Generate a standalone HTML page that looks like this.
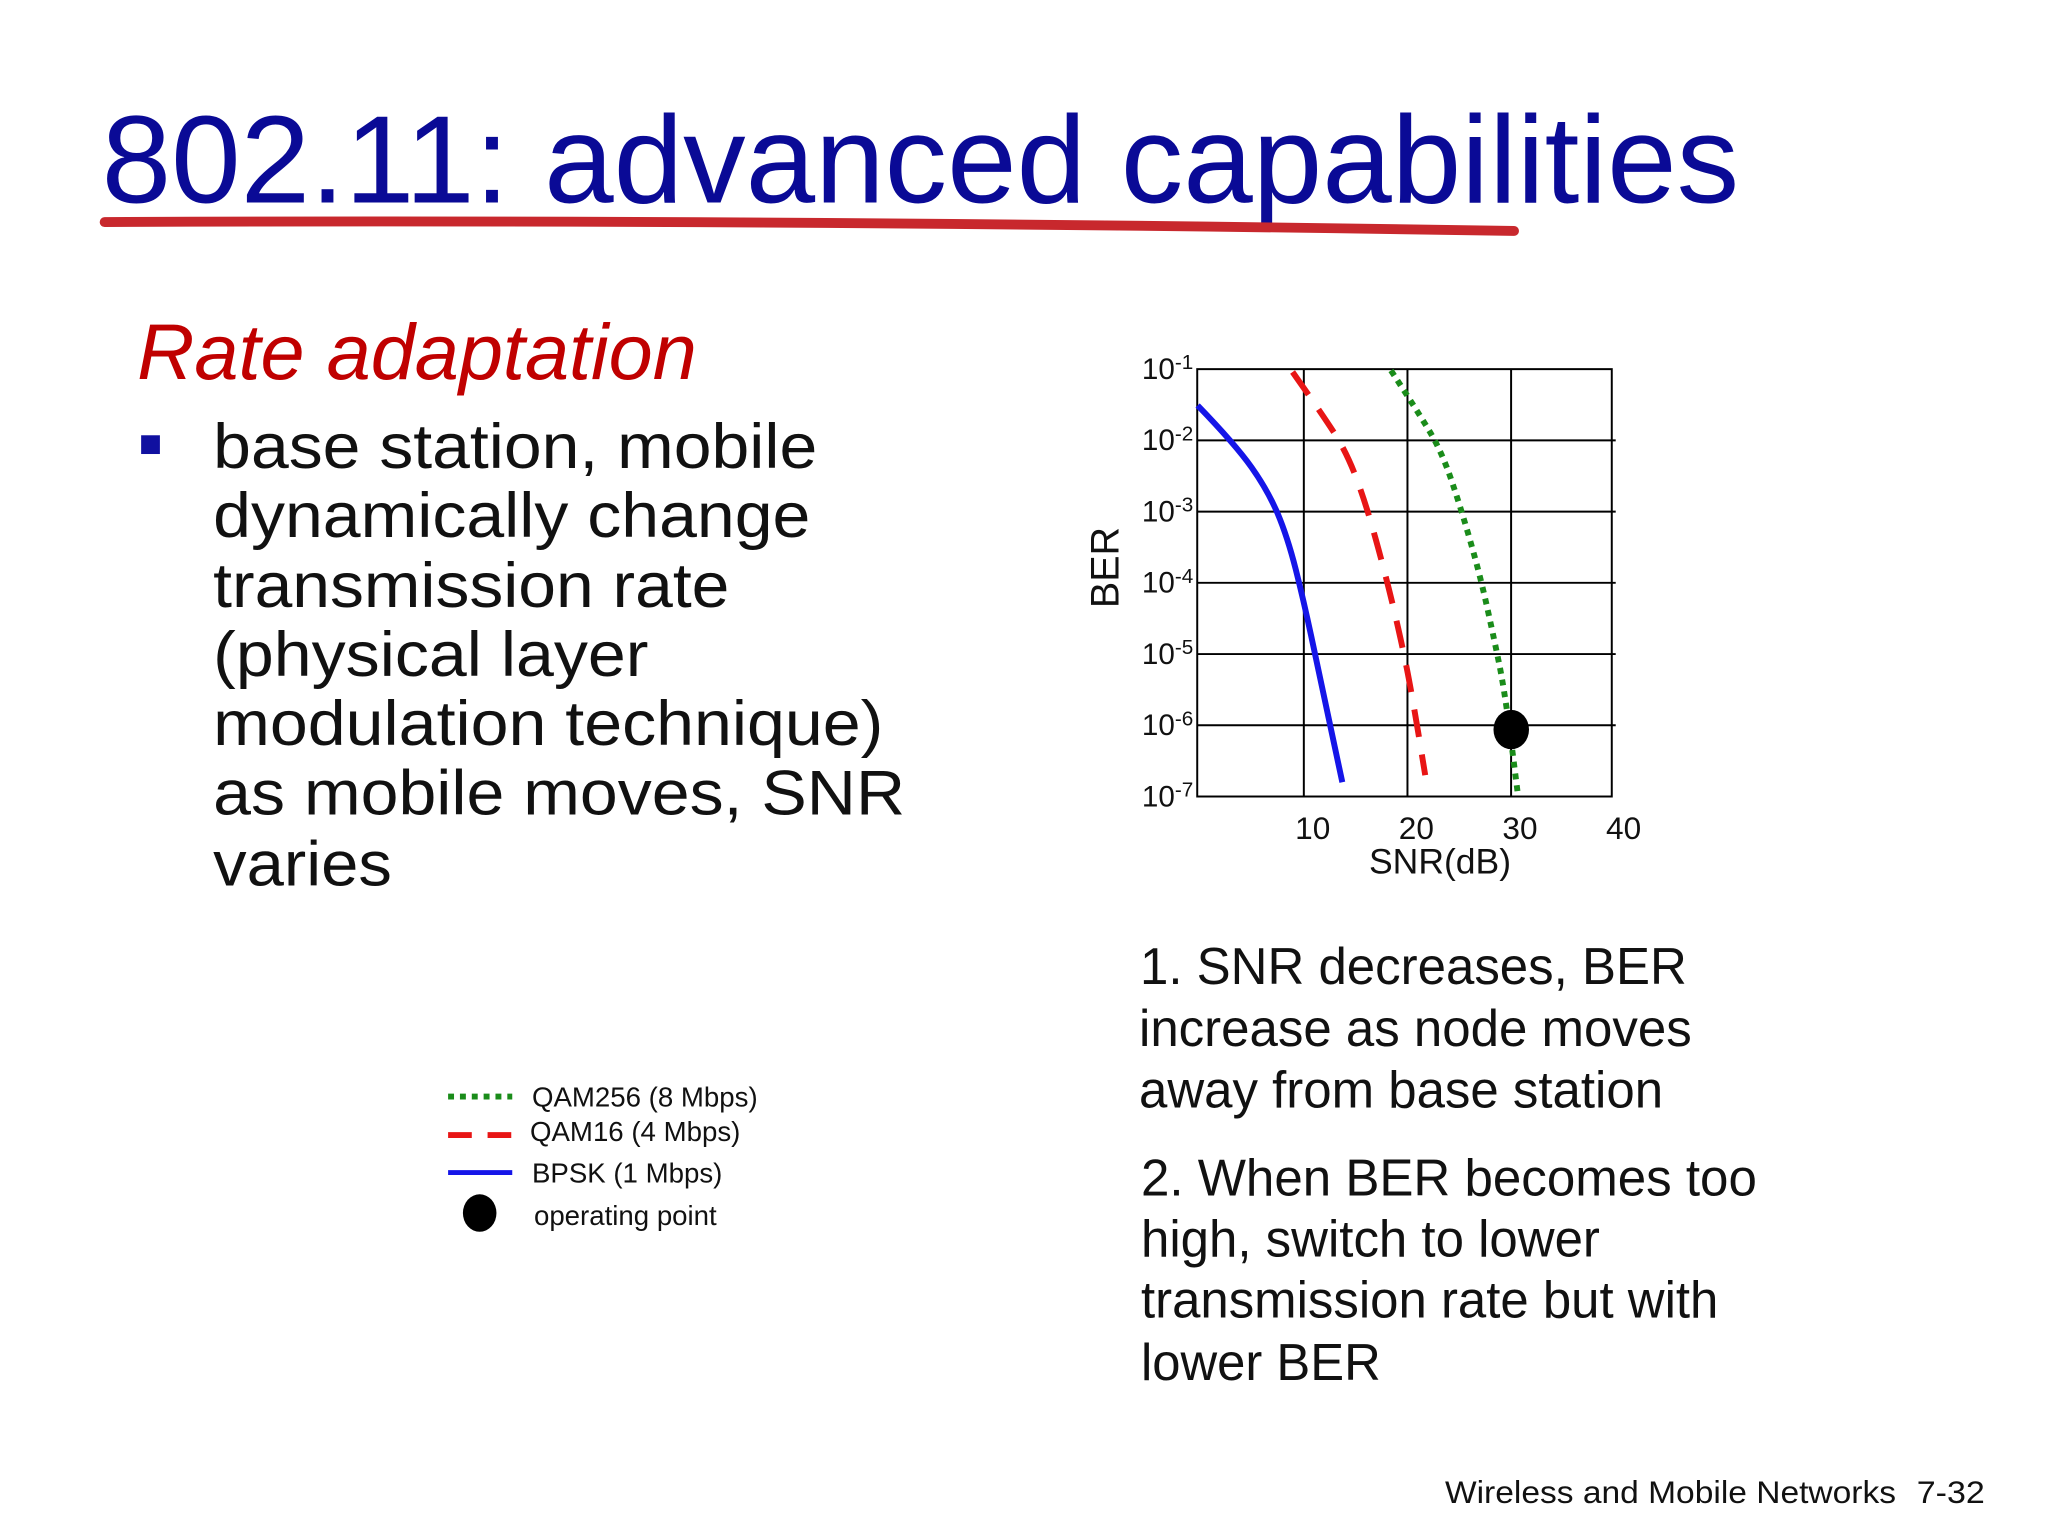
<!DOCTYPE html>
<html><head><meta charset="utf-8"><style>
html,body{margin:0;padding:0;background:#fff}
svg{display:block}
text{font-family:"Liberation Sans",sans-serif}
</style></head><body>
<svg id="slide" width="2048" height="1536" viewBox="0 0 2048 1536" xmlns="http://www.w3.org/2000/svg">
<rect width="2048" height="1536" fill="#fff"/>
<g transform="scale(0.987)">
<text x="103" y="205" font-size="126" fill="#0a0a96" textLength="1659" lengthAdjust="spacingAndGlyphs">802.11: advanced capabilities</text>
<path d="M106,225 Q800,222 1534,234" stroke="#c8282d" stroke-width="10" fill="none" stroke-linecap="round"/>
<text x="139" y="384" font-size="80" font-style="italic" fill="#c00000" textLength="567" lengthAdjust="spacingAndGlyphs">Rate adaptation</text>
<rect x="143" y="441" width="19" height="19" fill="#1010a0"/>
<g font-size="64" fill="#111">
<text x="216" y="474" textLength="612" lengthAdjust="spacingAndGlyphs">base station, mobile</text>
<text x="216" y="544" textLength="605" lengthAdjust="spacingAndGlyphs">dynamically change</text>
<text x="216" y="615" textLength="523" lengthAdjust="spacingAndGlyphs">transmission rate</text>
<text x="216" y="685" textLength="441" lengthAdjust="spacingAndGlyphs">(physical layer</text>
<text x="216" y="755" textLength="679" lengthAdjust="spacingAndGlyphs">modulation technique)</text>
<text x="216" y="825" textLength="701" lengthAdjust="spacingAndGlyphs">as mobile moves, SNR</text>
<text x="216" y="897" textLength="181" lengthAdjust="spacingAndGlyphs">varies</text>
</g>
<g font-size="53" fill="#111">
<text x="1155" y="997" textLength="554" lengthAdjust="spacingAndGlyphs">1. SNR decreases, BER</text>
<text x="1154" y="1060" textLength="560" lengthAdjust="spacingAndGlyphs">increase as node moves</text>
<text x="1154" y="1122" textLength="531" lengthAdjust="spacingAndGlyphs">away from base station</text>
</g>
<g font-size="53" fill="#111">
<text x="1156" y="1211" textLength="624" lengthAdjust="spacingAndGlyphs">2. When BER becomes too</text>
<text x="1156" y="1273" textLength="465" lengthAdjust="spacingAndGlyphs">high, switch to lower</text>
<text x="1156" y="1335" textLength="585" lengthAdjust="spacingAndGlyphs">transmission rate but with</text>
<text x="1156" y="1398" textLength="243" lengthAdjust="spacingAndGlyphs">lower BER</text>
</g>
<text x="1464" y="1523" font-size="32" fill="#111" textLength="457" lengthAdjust="spacingAndGlyphs">Wireless and Mobile Networks</text>
<text x="1942" y="1523" font-size="32" fill="#111" textLength="69" lengthAdjust="spacingAndGlyphs">7-32</text>
<g id="legend"></g>
<g id="chart"></g>
</g>
</svg>
<script>
const xTicks = [10, 20, 30, 40];
const yExps = [-1, -2, -3, -4, -5, -6, -7];
const bpskSnr = [0.04, 3.7, 6.8, 8.7, 10.3, 11.9, 14.0];
const bpskExp = [-1.51, -2.06, -2.7, -3.35, -4.27, -5.37, -6.8];
const qam16Snr = [9.2, 11.9, 14.4, 16.3, 18.2, 19.7, 20.7, 22.0];
const qam16Exp = [-1.04, -1.6, -2.16, -2.9, -3.9, -4.82, -5.55, -6.7];
const qam256Snr = [18.7, 21.3, 23.6, 25.5, 27.3, 28.7, 29.7, 30.9];
const qam256Exp = [-1.02, -1.6, -2.16, -2.98, -3.9, -4.82, -5.55, -6.93];
const opSnr = [30.3];
const opExp = [-6.06];
const legendLabels = ["QAM256 (8 Mbps)", "QAM16 (4 Mbps)", "BPSK (1 Mbps)", "operating point"];

const NS = "http://www.w3.org/2000/svg";
const L = 1213, R = 1633, T = 374, B = 807;
const xs = v => L + (v / 40) * (R - L);
const ys = e => T + ((-1 - e) / 6) * (B - T);
function mk(tag, attrs, parent) {
  const el = document.createElementNS(NS, tag);
  for (const k in attrs) el.setAttribute(k, attrs[k]);
  parent.appendChild(el);
  return el;
}
const chart = document.getElementById('chart');
yExps.slice(1, 6).forEach(e => {
  const ln = mk('line', {x1: L, x2: R + 4, y1: ys(e), y2: ys(e), stroke: '#000', 'stroke-width': 2}, chart);
  
  
});
xTicks.slice(0, 3).forEach(v => {
  const ln = mk('line', {x1: xs(v) + 3, x2: xs(v) + 3, y1: T, y2: B, stroke: '#000', 'stroke-width': 2}, chart);
  
  
});
const frame = mk('rect', {x: L, y: T, width: R - L, height: B - T, fill: 'none', stroke: '#000', 'stroke-width': 2}, chart);


yExps.forEach(e => {
  const t = mk('text', {x: 1209, y: ys(e) + 10, 'font-size': 30, 'text-anchor': 'end', fill: '#111'}, chart);
  
  
  const a = mk('tspan', {}, t); a.textContent = '10';
  const b = mk('tspan', {dy: -10, 'font-size': 21}, t); b.textContent = String(e);
});
xTicks.forEach(v => {
  const t = mk('text', {x: xs(v) + 12, y: 850, 'font-size': 32, 'text-anchor': 'middle', fill: '#111'}, chart);
  
  
  t.textContent = v;
});
const xt = mk('text', {x: 1459, y: 885, 'font-size': 36, 'text-anchor': 'middle', fill: '#111'}, chart);


xt.textContent = 'SNR(dB)';
const yt = mk('text', {x: 0, y: 0, 'font-size': 40, 'text-anchor': 'middle', fill: '#111', transform: 'translate(1133,575) rotate(-90)'}, chart);


yt.textContent = 'BER';
function series(snr, ex, style, name) {
  const pts = snr.map((v, i) => [xs(v), ys(ex[i])]);
  let d = 'M' + pts[0][0].toFixed(1) + ',' + pts[0][1].toFixed(1);
  for (let i = 1; i < pts.length - 1; i++) {
    const mx = (pts[i][0] + pts[i + 1][0]) / 2, my = (pts[i][1] + pts[i + 1][1]) / 2;
    d += ' Q' + pts[i][0].toFixed(1) + ',' + pts[i][1].toFixed(1) + ' ' + mx.toFixed(1) + ',' + my.toFixed(1);
  }
  const last = pts[pts.length - 1];
  d += ' L' + last[0].toFixed(1) + ',' + last[1].toFixed(1);
  const p = mk('path', Object.assign({d: d, fill: 'none'}, style), chart);
  
  
}
series(bpskSnr, bpskExp, {stroke: '#1515e8', 'stroke-width': 6}, 'bpsk-line');
series(qam16Snr, qam16Exp, {stroke: '#e81515', 'stroke-width': 6, 'stroke-dasharray': '28 18'}, 'qam16-line');
series(qam256Snr, qam256Exp, {stroke: '#1a8c1a', 'stroke-width': 6, 'stroke-dasharray': '6 6'}, 'qam256-line');
opSnr.forEach((v, i) => {
  const c = mk('ellipse', {cx: xs(v), cy: ys(opExp[i]), rx: 18, ry: 20, fill: '#000'}, chart);
  
  
});
const lg = document.getElementById('legend');
const lys = [1111, 1150, 1188];
const styles = [
  {stroke: '#1a8c1a', 'stroke-width': 6, 'stroke-dasharray': '6 6'},
  {stroke: '#e81515', 'stroke-width': 6, 'stroke-dasharray': '24 16'},
  {stroke: '#1515e8', 'stroke-width': 5}
];
styles.forEach((s, i) => {
  const ln = mk('line', Object.assign({x1: 454, x2: 519, y1: lys[i], y2: lys[i]}, s), lg);
  
  
});
const lc = mk('ellipse', {cx: 486, cy: 1229, rx: 17, ry: 19, fill: '#000'}, lg);


const tys = [1121, 1156, 1198, 1241];
const txs = [539, 537, 539, 541];
legendLabels.forEach((s, i) => {
  const t = mk('text', {x: txs[i], y: tys[i], 'font-size': 28, fill: '#111'}, lg);
  
  
  t.textContent = s;
});
</script>
</body></html>
